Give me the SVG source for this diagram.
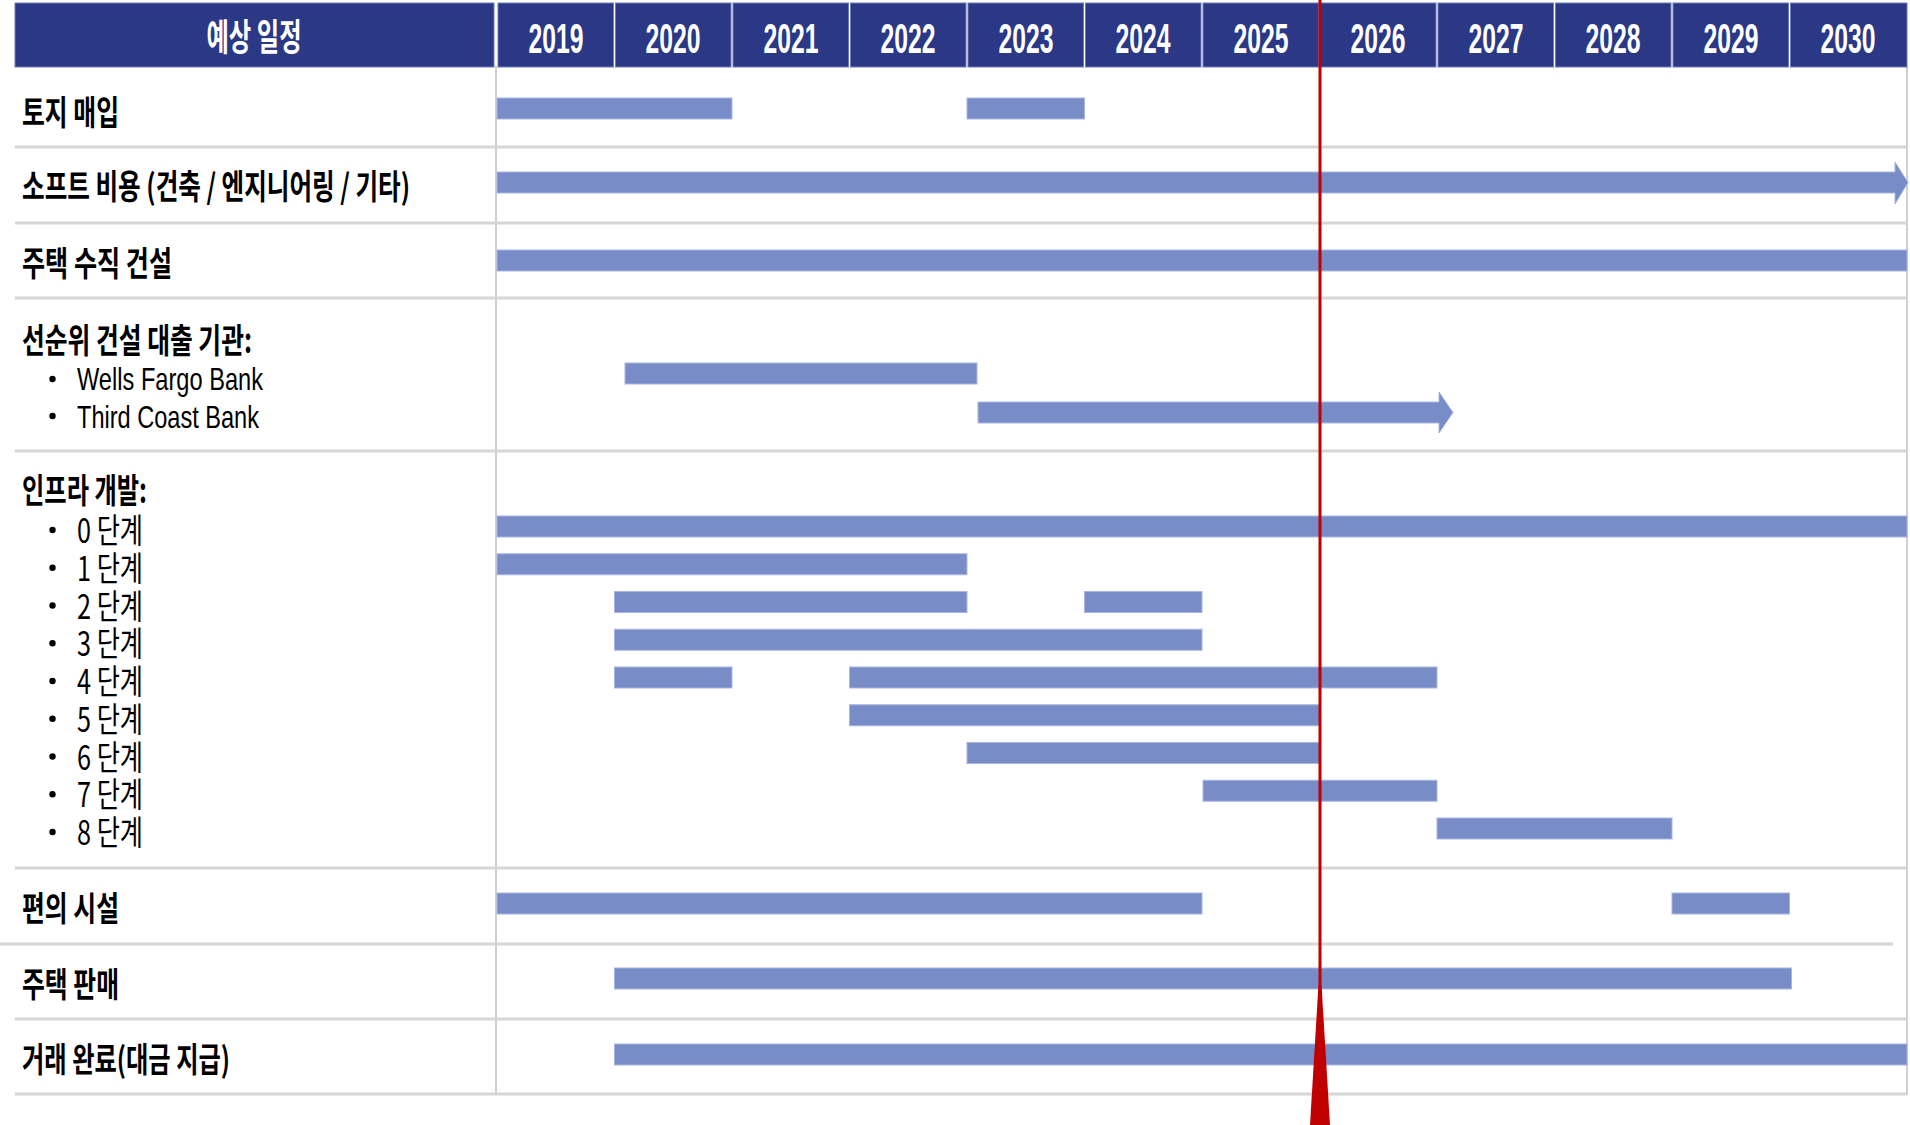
<svg xmlns="http://www.w3.org/2000/svg" width="1910" height="1125" viewBox="0 0 1910 1125">
<style>
.hd{fill:#2b3885;stroke:#6f7bb8;stroke-width:1}
.ht{fill:#ffffff;font-family:"Liberation Sans","Noto Sans CJK KR",sans-serif;font-weight:bold;font-size:43px;text-anchor:middle}
.hk{fill:#ffffff;font-family:"Noto Sans CJK KR",sans-serif;font-weight:bold;font-size:37px;text-anchor:middle}
.lb{fill:#000000;font-family:"Noto Sans CJK KR",sans-serif;font-weight:bold;font-size:34px}
.sb{fill:#000000;font-family:"Noto Sans CJK KR",sans-serif;font-weight:normal;font-size:34px}
.sl{fill:#000000;font-family:"Liberation Sans","Noto Sans CJK KR",sans-serif;font-weight:normal;font-size:32px}
.bar{fill:#788cc8;stroke:#a9b6df;stroke-width:1}
.grid{stroke:#d6d6d6;stroke-width:3;fill:none}
.vg{stroke:#cfcfcf;stroke-width:2;fill:none}
.dot{fill:#000000}
</style>
<rect x="0" y="0" width="1910" height="1125" fill="#ffffff"/>

<g id="grid">
<line class="vg" x1="496" y1="66" x2="496" y2="1095"/>
<line class="vg" x1="1907" y1="66" x2="1907" y2="1095"/>
<line class="grid" x1="15" y1="147" x2="1907" y2="147"/>
<line class="grid" x1="15" y1="223" x2="1907" y2="223"/>
<line class="grid" x1="15" y1="298" x2="1907" y2="298"/>
<line class="grid" x1="15" y1="451" x2="1907" y2="451"/>
<line class="grid" x1="15" y1="868" x2="1907" y2="868"/>
<line class="grid" x1="0" y1="944" x2="1893" y2="944"/>
<line class="grid" x1="15" y1="1019" x2="1907" y2="1019"/>
<line class="grid" x1="15" y1="1094" x2="1907" y2="1094"/>
</g>

<g id="header">
<rect class="hd" x="15" y="3" width="479" height="64"/>
<text class="hk" x="254" y="51" textLength="95" lengthAdjust="spacingAndGlyphs">예상 일정</text>
<rect class="hd" x="498" y="3" width="115.5" height="64"/>
<text class="ht" x="556" y="53" textLength="55" lengthAdjust="spacingAndGlyphs">2019</text>
<rect class="hd" x="615.5" y="3" width="115.5" height="64"/>
<text class="ht" x="673" y="53" textLength="55" lengthAdjust="spacingAndGlyphs">2020</text>
<rect class="hd" x="733" y="3" width="115.5" height="64"/>
<text class="ht" x="791" y="53" textLength="55" lengthAdjust="spacingAndGlyphs">2021</text>
<rect class="hd" x="850.5" y="3" width="115.5" height="64"/>
<text class="ht" x="908" y="53" textLength="55" lengthAdjust="spacingAndGlyphs">2022</text>
<rect class="hd" x="968" y="3" width="115.5" height="64"/>
<text class="ht" x="1026" y="53" textLength="55" lengthAdjust="spacingAndGlyphs">2023</text>
<rect class="hd" x="1085.5" y="3" width="115.5" height="64"/>
<text class="ht" x="1143" y="53" textLength="55" lengthAdjust="spacingAndGlyphs">2024</text>
<rect class="hd" x="1203" y="3" width="115.5" height="64"/>
<text class="ht" x="1261" y="53" textLength="55" lengthAdjust="spacingAndGlyphs">2025</text>
<rect class="hd" x="1320.5" y="3" width="115.5" height="64"/>
<text class="ht" x="1378" y="53" textLength="55" lengthAdjust="spacingAndGlyphs">2026</text>
<rect class="hd" x="1438" y="3" width="115.5" height="64"/>
<text class="ht" x="1496" y="53" textLength="55" lengthAdjust="spacingAndGlyphs">2027</text>
<rect class="hd" x="1555.5" y="3" width="115.5" height="64"/>
<text class="ht" x="1613" y="53" textLength="55" lengthAdjust="spacingAndGlyphs">2028</text>
<rect class="hd" x="1673" y="3" width="115.5" height="64"/>
<text class="ht" x="1731" y="53" textLength="55" lengthAdjust="spacingAndGlyphs">2029</text>
<rect class="hd" x="1790.5" y="3" width="116.5" height="64"/>
<text class="ht" x="1848" y="53" textLength="55" lengthAdjust="spacingAndGlyphs">2030</text>
</g>

<g id="row-land">
<text class="lb" x="22" y="125" textLength="97" lengthAdjust="spacingAndGlyphs">토지 매입</text>
<rect class="bar" x="497" y="98" width="235" height="21"/>
<rect class="bar" x="967" y="98" width="117.5" height="21"/>
</g>

<g id="row-soft">
<text class="lb" x="22" y="199" textLength="388" lengthAdjust="spacingAndGlyphs">소프트 비용 (건축 / 엔지니어링 / 기타)</text>
<polygon class="bar" points="497,172 1895,172 1895,162 1908,182.5 1895,204 1895,193 497,193"/>
</g>

<g id="row-vertical">
<text class="lb" x="22" y="276" textLength="150" lengthAdjust="spacingAndGlyphs">주택 수직 건설</text>
<rect class="bar" x="497" y="250" width="1410" height="21"/>
</g>

<g id="row-lenders">
<text class="lb" x="22" y="353" textLength="230" lengthAdjust="spacingAndGlyphs">선순위 건설 대출 기관:</text>
<circle class="dot" cx="52.5" cy="379" r="3.2"/>
<text class="sl" x="77" y="390" textLength="186" lengthAdjust="spacingAndGlyphs">Wells Fargo Bank</text>
<circle class="dot" cx="52.5" cy="416" r="3.2"/>
<text class="sl" x="77" y="428" textLength="182" lengthAdjust="spacingAndGlyphs">Third Coast Bank</text>
<rect class="bar" x="625" y="363" width="352" height="21"/>
<polygon class="bar" points="978,402 1439,402 1439,392 1453,412.5 1439,433 1439,423 978,423"/>
</g>

<g id="row-infra">
<text class="lb" x="22" y="503" textLength="125" lengthAdjust="spacingAndGlyphs">인프라 개발:</text>
<circle class="dot" cx="52.5" cy="530" r="3.2"/>
<text class="sb" x="77" y="543" textLength="66" lengthAdjust="spacingAndGlyphs">0 단계</text>
<circle class="dot" cx="52.5" cy="567.75" r="3.2"/>
<text class="sb" x="77" y="580.75" textLength="66" lengthAdjust="spacingAndGlyphs">1 단계</text>
<circle class="dot" cx="52.5" cy="605.5" r="3.2"/>
<text class="sb" x="77" y="618.5" textLength="66" lengthAdjust="spacingAndGlyphs">2 단계</text>
<circle class="dot" cx="52.5" cy="643.25" r="3.2"/>
<text class="sb" x="77" y="656.25" textLength="66" lengthAdjust="spacingAndGlyphs">3 단계</text>
<circle class="dot" cx="52.5" cy="681" r="3.2"/>
<text class="sb" x="77" y="694" textLength="66" lengthAdjust="spacingAndGlyphs">4 단계</text>
<circle class="dot" cx="52.5" cy="718.75" r="3.2"/>
<text class="sb" x="77" y="731.75" textLength="66" lengthAdjust="spacingAndGlyphs">5 단계</text>
<circle class="dot" cx="52.5" cy="756.5" r="3.2"/>
<text class="sb" x="77" y="769.5" textLength="66" lengthAdjust="spacingAndGlyphs">6 단계</text>
<circle class="dot" cx="52.5" cy="794.25" r="3.2"/>
<text class="sb" x="77" y="807.25" textLength="66" lengthAdjust="spacingAndGlyphs">7 단계</text>
<circle class="dot" cx="52.5" cy="832" r="3.2"/>
<text class="sb" x="77" y="845" textLength="66" lengthAdjust="spacingAndGlyphs">8 단계</text>
<rect class="bar" x="497" y="516" width="1410" height="21"/>
<rect class="bar" x="497" y="553.75" width="470" height="21"/>
<rect class="bar" x="614.5" y="591.5" width="352.5" height="21"/>
<rect class="bar" x="1084.5" y="591.5" width="117.5" height="21"/>
<rect class="bar" x="614.5" y="629.25" width="587.5" height="21"/>
<rect class="bar" x="614.5" y="667" width="117.5" height="21"/>
<rect class="bar" x="849.5" y="667" width="587.5" height="21"/>
<rect class="bar" x="849.5" y="704.75" width="470" height="21"/>
<rect class="bar" x="967" y="742.5" width="352.5" height="21"/>
<rect class="bar" x="1203" y="780.25" width="234" height="21"/>
<rect class="bar" x="1437" y="818" width="235" height="21"/>
</g>

<g id="row-amenities">
<text class="lb" x="22" y="921" textLength="97" lengthAdjust="spacingAndGlyphs">편의 시설</text>
<rect class="bar" x="497" y="893" width="705" height="21"/>
<rect class="bar" x="1672" y="893" width="117.5" height="21"/>
</g>

<g id="row-sales">
<text class="lb" x="22" y="997" textLength="97" lengthAdjust="spacingAndGlyphs">주택 판매</text>
<rect class="bar" x="614.5" y="968" width="1177" height="21"/>
</g>

<g id="row-closing">
<text class="lb" x="22" y="1072" textLength="208" lengthAdjust="spacingAndGlyphs">거래 완료(대금 지급)</text>
<rect class="bar" x="614.5" y="1044" width="1292.5" height="21"/>
</g>

<g id="connectors">
<line x1="1320" y1="0" x2="1320" y2="1000" stroke="#c00000" stroke-width="3"/>
<polygon points="1318.5,985 1321.5,985 1330,1125 1310,1125" fill="#c00000"/>
</g>
</svg>
